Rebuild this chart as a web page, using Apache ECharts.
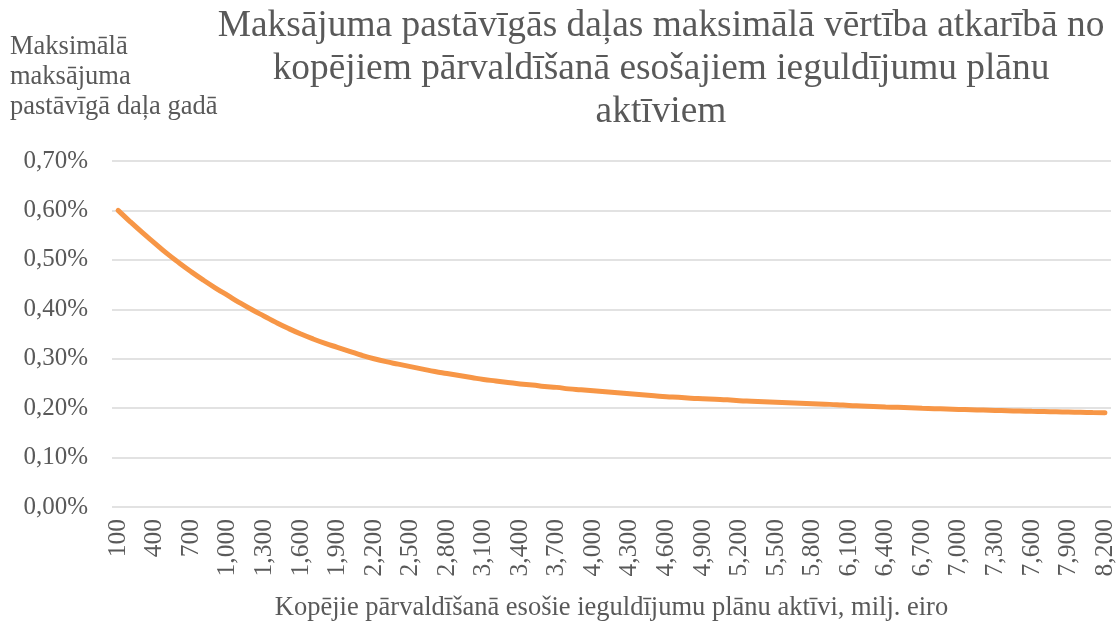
<!DOCTYPE html>
<html>
<head>
<meta charset="utf-8">
<script src="https://cdn.jsdelivr.net/npm/echarts@6/dist/echarts.min.js"></script>
<style>
  html, body { margin: 0; padding: 0; background: #fff; }
  #chart { width: 1120px; height: 628px; }
</style>
</head>
<body>
<div id="chart"></div>
<script>
// aktīvi, milj. eiro (solis 100)
const assets = [
  100, 200, 300, 400, 500, 600, 700, 800, 900, 1000,
  1100, 1200, 1300, 1400, 1500, 1600, 1700, 1800, 1900, 2000,
  2100, 2200, 2300, 2400, 2500, 2600, 2700, 2800, 2900, 3000,
  3100, 3200, 3300, 3400, 3500, 3600, 3700, 3800, 3900, 4000,
  4100, 4200, 4300, 4400, 4500, 4600, 4700, 4800, 4900, 5000,
  5100, 5200, 5300, 5400, 5500, 5600, 5700, 5800, 5900, 6000,
  6100, 6200, 6300, 6400, 6500, 6600, 6700, 6800, 6900, 7000,
  7100, 7200, 7300, 7400, 7500, 7600, 7700, 7800, 7900, 8000,
  8100, 8200
];
// maksimālā pastāvīgā daļa, % gadā (nolasīts no attēla)
const feePct = [
  0.600, 0.577, 0.555, 0.534, 0.513, 0.494, 0.476, 0.459, 0.443, 0.428,
  0.413, 0.399, 0.386, 0.373, 0.361, 0.350, 0.340, 0.331, 0.323, 0.315,
  0.307, 0.300, 0.294, 0.289, 0.284, 0.279, 0.274, 0.270, 0.266, 0.262,
  0.258, 0.255, 0.252, 0.249, 0.247, 0.244, 0.242, 0.239, 0.237, 0.235,
  0.233, 0.231, 0.229, 0.227, 0.225, 0.223, 0.222, 0.220, 0.219, 0.218,
  0.217, 0.215, 0.214, 0.213, 0.212, 0.211, 0.210, 0.209, 0.208, 0.207,
  0.2055, 0.2045, 0.2035, 0.2025, 0.2016, 0.2007, 0.1998, 0.1990, 0.1982, 0.1974,
  0.1967, 0.1960, 0.1953, 0.1947, 0.1941, 0.1935, 0.1930, 0.1925, 0.1920, 0.1915,
  0.1910, 0.1905
];

const titleText = 'Maksājuma pastāvīgās daļas maksimālā vērtība atkarībā no\nkopējiem pārvaldīšanā esošajiem ieguldījumu plānu\naktīviem';
const yName = 'Maksimālā\nmaksājuma\npastāvīgā daļa gadā';
const xName = 'Kopējie pārvaldīšanā esošie ieguldījumu plānu aktīvi, milj. eiro';

const FONT = '"Liberation Serif", "Times New Roman", serif';
const TXT = '#595959';

const chart = echarts.init(document.getElementById('chart'), null, { renderer: 'canvas' });

chart.setOption({
  backgroundColor: '#fff',
  animation: false,
  textStyle: { fontFamily: FONT },
  title: {
    text: titleText,
    left: 656, top: 0,
    textAlign: 'center',
    textStyle: { fontFamily: FONT, fontWeight: 'normal', fontSize: 37.4, lineHeight: 43, color: TXT }
  },
  graphic: [{
    type: 'text', left: 10, top: 32,
    style: { text: yName, fontFamily: FONT, fontSize: 26.5, lineHeight: 30, fill: TXT }
  }],
  grid: { left: 112, right: 9, top: 161, bottom: 121, outerBoundsMode: 'none', containLabel: false },
  xAxis: {
    type: 'category',
    data: assets,
    boundaryGap: true,
    name: xName,
    nameLocation: 'middle',
    nameGap: 88,
    nameTextStyle: { fontFamily: FONT, fontSize: 26.5, color: TXT },
    axisLine: { show: false },
    axisTick: { show: false },
    axisLabel: {
      interval: 2,
      rotate: 90,
      margin: 12,
      fontFamily: FONT, fontSize: 25.5, color: TXT,
      formatter: v => Number(v).toLocaleString('en-US')
    }
  },
  yAxis: {
    type: 'value',
    min: 0, max: 0.7, interval: 0.1,
    axisLine: { show: false },
    axisTick: { show: false },
    splitLine: { lineStyle: { color: '#d9d9d9', width: 1.5 } },
    axisLabel: {
      margin: 24,
      fontFamily: FONT, fontSize: 25, color: TXT,
      formatter: v => v.toFixed(2).replace('.', ',') + '%'
    }
  },
  series: [{
    type: 'line',
    data: feePct,
    smooth: true,
    showSymbol: false,
    lineStyle: { color: '#f79646', width: 5, cap: 'round' }
  }]
});
</script>
</body>
</html>
